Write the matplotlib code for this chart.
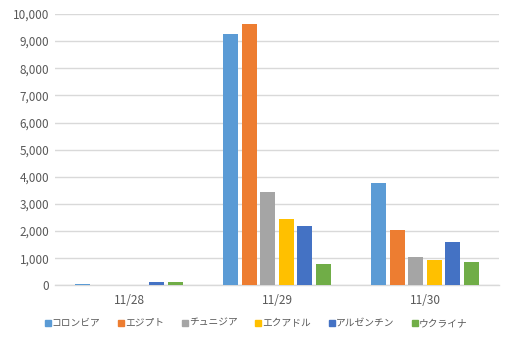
import matplotlib
matplotlib.use('Agg')
import matplotlib.pyplot as plt
from matplotlib.lines import Line2D
from matplotlib.ticker import FuncFormatter
import numpy as np

plt.rcParams['font.family'] = ['Noto Sans CJK JP', 'DejaVu Sans']

dates = ["11/28", "11/29", "11/30"]
countries = ["コロンビア", "エジプト", "チュニジア", "エクアドル", "アルゼンチン", "ウクライナ"]
colombia = [50, 9260, 3770]
egypt = [0, 9630, 2030]
tunisia = [0, 3440, 1040]
ecuador = [0, 2440, 930]
argentina = [120, 2180, 1600]
ukraine = [120, 780, 860]
series = [colombia, egypt, tunisia, ecuador, argentina, ukraine]
colors = ["#5b9bd5", "#ed7d31", "#a5a5a5", "#ffc000", "#4472c4", "#70ad47"]

fig = plt.figure(figsize=(5.13, 3.41), dpi=100)
ax = fig.add_axes([55 / 513, 1 - 285.3 / 341, 444 / 513, 271.3 / 341])

x = np.arange(len(dates))
slot = 0.126
width = 0.101
for i, vals in enumerate(series):
    ax.bar(x + (i - 2.5) * slot, vals, width, color=colors[i], zorder=3)

ax.set_xlim(-0.5, 2.5)
ax.set_ylim(0, 10000)
ax.set_yticks(range(0, 10001, 1000))
ax.yaxis.set_major_formatter(FuncFormatter(lambda v, p: f"{int(v):,}"))
ax.set_xticks(x)
ax.set_xticklabels(dates)
ax.grid(axis='y', color='#d9d9d9', linewidth=1, zorder=0)
for s in ['top', 'right', 'left']:
    ax.spines[s].set_visible(False)
ax.spines['bottom'].set_color('#d9d9d9')
ax.spines['bottom'].set_linewidth(1)
ax.tick_params(length=0, labelsize=8.5, labelcolor='#595959')
ax.tick_params(axis='x', pad=6)
ax.tick_params(axis='y', pad=4)

handles = [Line2D([], [], marker='s', linestyle='', color=c, markersize=5) for c in colors]
fig.legend(handles, countries, loc='center', bbox_to_anchor=(0.5, 1 - 323 / 341),
           ncol=6, frameon=False, fontsize=7, labelcolor='#595959',
           handlelength=0.5, handletextpad=0.15, columnspacing=1.9)

plt.savefig("out.png", dpi=100)
